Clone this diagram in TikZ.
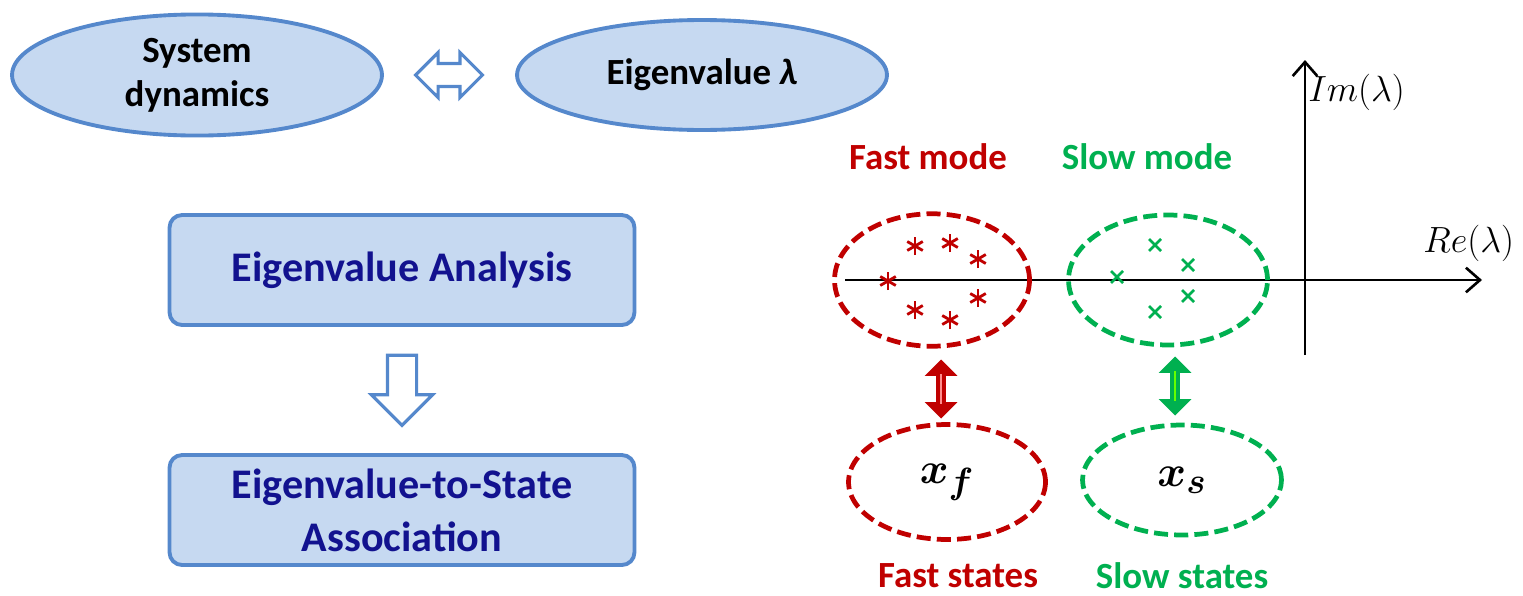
\documentclass[tikz,border=0pt]{standalone}
\usepackage{amsmath}
\usepackage{amssymb}
\usepackage{bm}
\usepackage{fontspec}
\setmainfont{Carlito}
\usetikzlibrary{arrows.meta, shapes.geometric, shapes.arrows}
\definecolor{boxblue}{HTML}{C6D9F1}
\definecolor{lineblue}{HTML}{5588CC}
\definecolor{navy}{HTML}{12128F}
\definecolor{fastred}{HTML}{C00000}
\definecolor{slowgreen}{HTML}{00B050}

\begin{document}
\begin{tikzpicture}[x=0.02cm, y=-0.02cm,
    bubble/.style={ellipse, draw=lineblue, fill=boxblue, line width=2.2pt,
        minimum width=7.4cm, minimum height=2.2cm, font=\fontsize{21}{25}\selectfont\bfseries, align=center},
    block/.style={rectangle, rounded corners=0.25cm, draw=lineblue, fill=boxblue, line width=2.2pt,
        minimum width=9.3cm, minimum height=2.2cm, text=navy, font=\fontsize{24}{30}\selectfont\bfseries, align=center},
    group/.style={ellipse, dash pattern=on 8pt off 3.5pt, line width=2.7pt, inner sep=0pt},
    modelabel/.style={font=\fontsize{21}{22}\selectfont\bfseries},
    axis/.style={line width=1.5pt, -{Straight Barb[length=8pt, width=14pt, line width=1.5pt]}}]
    \useasboundingbox (0, 0) rectangle (1523, 595);

    % left side
    \node[bubble] (sys) at (197, 75) {System\\dynamics};
    \node[bubble] (eig) at (702, 75) {Eigenvalue \textit{λ}};
    \node[double arrow, draw=lineblue, fill=white, line width=1.8pt, inner sep=0.2cm,
        double arrow head extend=0.22cm, minimum height=1.34cm] (swap) at (449, 75) {};
    \node[block] (ana) at (402, 270) {Eigenvalue Analysis};
    \node[block] (assoc) at (402, 510) {Eigenvalue-to-State\\Association};
    \node[single arrow, shape border rotate=270, draw=lineblue, fill=white, line width=1.8pt,
        inner sep=0.26cm, single arrow head extend=0.32cm, minimum height=1.4cm] (down) at (402, 383) {};

    % complex plane
    \coordinate (xstart) at (845, 280);
    \coordinate (xend) at (1482, 280);
    \coordinate (ystart) at (1305, 355);
    \coordinate (yend) at (1305, 60);
    \draw[axis] (xstart) -- (xend);
    \draw[axis] (ystart) -- (yend);
    \node[anchor=west, inner sep=0pt, font=\fontsize{20}{20}\selectfont] (im) at (1308, 92) {$Im(\lambda)$};
    \node[anchor=west, inner sep=0pt, font=\fontsize{21}{21}\selectfont] (re) at (1423, 243) {$Re(\lambda)$};

    \node[modelabel, text=fastred] (fastmode) at (928, 157) {Fast mode};
    \node[modelabel, text=slowgreen] (slowmode) at (1147, 157) {Slow mode};
    \node[group, draw=fastred, minimum width=3.9cm, minimum height=2.65cm] (fastgrp) at (932, 280) {};
    \node[group, draw=slowgreen, minimum width=3.98cm, minimum height=2.6cm] (slowgrp) at (1168, 280) {};

    % eigenvalues
    \foreach \px/\py in {915/246, 950/243, 978/259, 888/281, 915/310, 950/320, 978/298}
        \foreach \ang in {90, 30, 150}
            \draw[fastred, line width=1.6pt] (\px, \py) ++(\ang:9) -- ++(\ang+180:18);
    \foreach \px/\py in {1155/245, 1188/265, 1117/277, 1188/296, 1155/312}
        \draw[slowgreen, line width=1.5pt] (\px-6, \py-6) -- (\px+6, \py+6) (\px-6, \py+6) -- (\px+6, \py-6);

    % states
    \node[group, draw=fastred, minimum width=3.94cm, minimum height=2.3cm,
        font=\fontsize{30}{30}\selectfont] (xf) at (947, 482) {$\bm{x_f}$};
    \node[group, draw=slowgreen, minimum width=3.98cm, minimum height=2.2cm,
        font=\fontsize{30}{30}\selectfont] (xs) at (1182, 480) {$\bm{x_s}$};
    \node[double arrow, shape border rotate=90, fill=fastred, inner sep=0.09cm,
        double arrow head extend=0.23cm, minimum height=1.18cm] (fastlink) at (941, 389) {};
    \node[double arrow, shape border rotate=90, fill=slowgreen, inner sep=0.09cm,
        double arrow head extend=0.23cm, minimum height=1.18cm] (slowlink) at (1175, 386) {};
    \draw[red!45!white, line width=1.4pt] (fastlink.center) ++(0, -15) -- ++(0, 30);
    \draw[green!60!yellow, line width=1.4pt] (slowlink.center) ++(0, -15) -- ++(0, 30);
    \node[modelabel, text=fastred] (faststates) at (958, 576) {Fast states};
    \node[modelabel, text=slowgreen] (slowstates) at (1182, 576) {Slow states};
\end{tikzpicture}
\end{document}
